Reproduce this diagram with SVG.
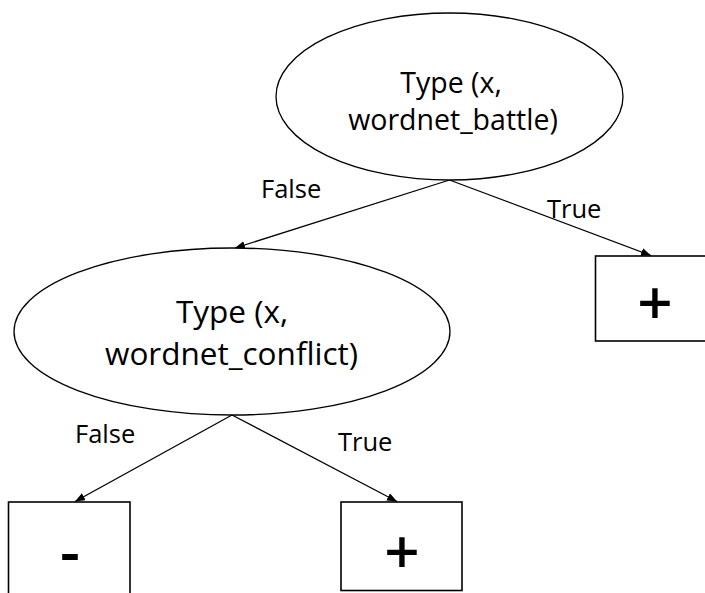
<svg xmlns="http://www.w3.org/2000/svg" width="705" height="593" viewBox="0 0 705 593">
<style>
  .shape { fill: #ffffff; stroke: #000000; stroke-width: 1.3; }
  .box { fill: #ffffff; stroke: #000000; stroke-width: 1.6; }
  .node-text { font-family: "Open Sans", "Noto Sans", sans-serif; font-size: 28.5px; fill: #000000; text-anchor: middle; }
  .node-text-lg { font-family: "Open Sans", "Noto Sans", sans-serif; font-size: 31.5px; fill: #000000; text-anchor: middle; }
  .edge-label { font-family: "Open Sans", "Noto Sans", sans-serif; font-size: 25.5px; fill: #000000; }
  .sign { font-family: "Open Sans", "Noto Sans", sans-serif; font-size: 62px; font-weight: 600; fill: #000000; text-anchor: middle; }
  .edge { stroke: #000000; stroke-width: 1.3; fill: none; marker-end: url(#arrow); }
</style>
<defs>
  <marker id="arrow" markerUnits="userSpaceOnUse" markerWidth="10" markerHeight="8" refX="10" refY="4" orient="auto">
    <path d="M0,0 L10,4 L0,8 Z" fill="#000000"/>
  </marker>
</defs>
<rect width="705" height="593" fill="#ffffff"/>
<g id="connectors">
  <line class="edge" x1="449.5" y1="180" x2="235" y2="248"/>
  <line class="edge" x1="449.5" y1="180" x2="651" y2="255.5"/>
  <line class="edge" x1="232" y1="415" x2="75" y2="501.5"/>
  <line class="edge" x1="232" y1="415" x2="397" y2="501.5"/>
  <text class="edge-label" x="261" y="198">False</text>
  <text class="edge-label" x="547" y="218">True</text>
  <text class="edge-label" x="75" y="443">False</text>
  <text class="edge-label" x="338" y="451">True</text>
</g>
<g id="node-battle">
  <ellipse class="shape" cx="449.5" cy="96.5" rx="173.5" ry="83.5"/>
  <text class="node-text" x="451" y="93">Type (x,</text>
  <text class="node-text" x="453" y="130">wordnet_battle)</text>
</g>
<g id="node-conflict">
  <ellipse class="shape" cx="232" cy="331.5" rx="218" ry="83.5"/>
  <text class="node-text-lg" x="232" y="323">Type (x,</text>
  <text class="node-text-lg" x="231.5" y="365">wordnet_conflict)</text>
</g>
<g id="leaf-plus-top">
  <rect class="box" x="595.5" y="256" width="120" height="85"/>
  <text class="sign" x="655" y="325">+</text>
</g>
<g id="leaf-minus">
  <rect class="box" x="8.5" y="502" width="121.5" height="100"/>
  <text class="sign" x="70" y="574">-</text>
</g>
<g id="leaf-plus-bottom">
  <rect class="box" x="341" y="502" width="121" height="88.5"/>
  <text class="sign" x="402" y="574">+</text>
</g>
</svg>
